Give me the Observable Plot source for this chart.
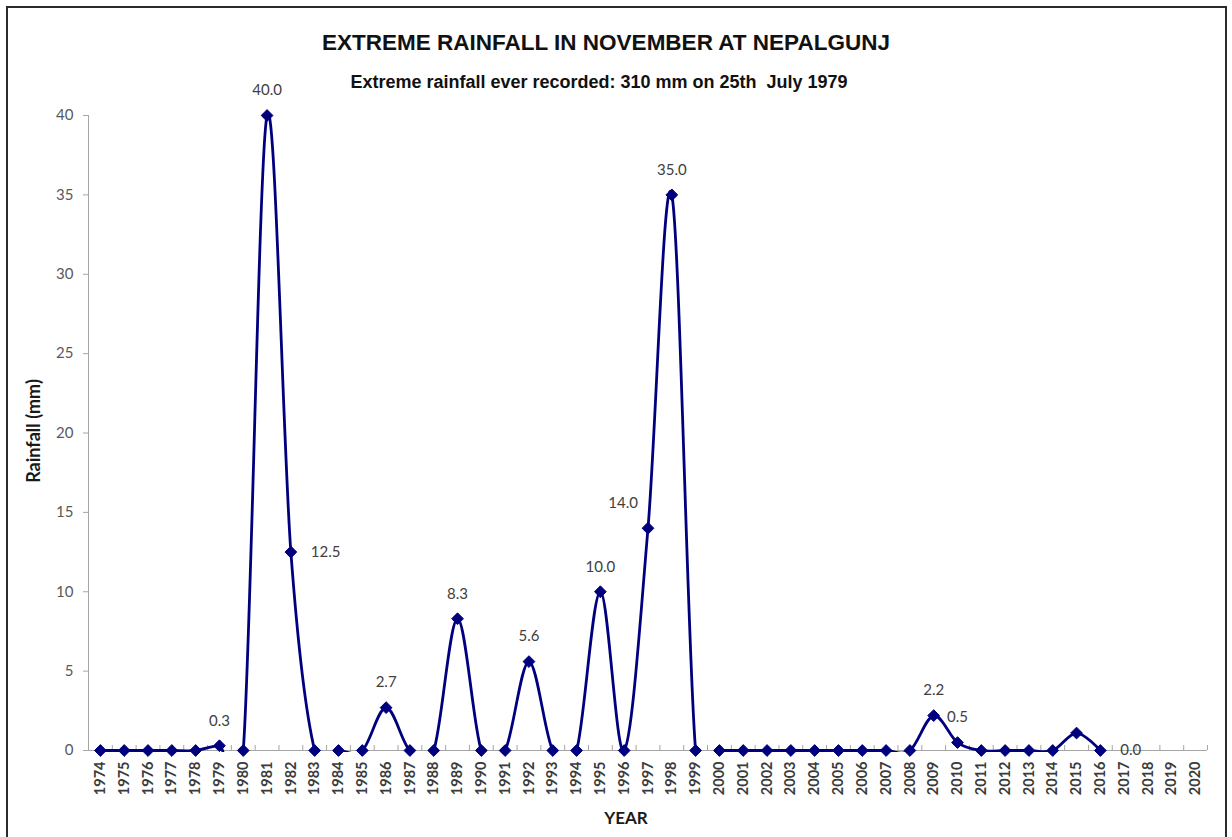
<!DOCTYPE html>
<html>
<head>
<meta charset="utf-8">
<script src="https://cdn.jsdelivr.net/npm/d3@7"></script>
<script src="https://cdn.jsdelivr.net/npm/@observablehq/plot@0.6"></script>
<style>
  body { margin: 0; background: #fff; }
  #wrap { position: relative; width: 1232px; height: 837px; overflow: hidden; background: #fff; }
  #border { position: absolute; left: 6px; top: 6px; width: 1221px; height: 860px; border: 2px solid #2b2b2b; box-sizing: border-box; }
  .t { position: absolute; text-align: center; white-space: nowrap; color: #111; }
  #title { left: 0; width: 1212px; top: 32px; font: bold 22.5px/22px "Liberation Sans", Arial, sans-serif; }
  #subtitle { left: 0; width: 1198px; top: 74px; font: bold 18px/16px "Liberation Sans", Arial, sans-serif; }
  #ylabel { left: 33px; top: 431px; transform: translate(-50%, -50%) rotate(-90deg); font: bold 18px/18px Lato, sans-serif; color: #1a1a1a; }
  #xlabel { left: 626px; top: 817px; transform: translate(-50%, -50%); font: bold 17px/17px Lato, sans-serif; color: #1a1a1a; }
  #plot { position: absolute; left: 0; top: 100px; }
</style>
</head>
<body>
<div id="wrap">
  <div id="border"></div>
  <div id="title" class="t">EXTREME RAINFALL IN NOVEMBER AT NEPALGUNJ</div>
  <div id="subtitle" class="t">Extreme rainfall ever recorded: 310 mm on 25th&nbsp; July 1979</div>
  <div id="plot"></div>
  <div id="ylabel" class="t">Rainfall (mm)</div>
  <div id="xlabel" class="t">YEAR</div>
</div>
<script>
// Category axis (all years shown on the axis)
const axisYears = ["1974","1975","1976","1977","1978","1979","1980","1981","1982","1983",
  "1984","1985","1986","1987","1988","1989","1990","1991","1992","1993","1994","1995",
  "1996","1997","1998","1999","2000","2001","2002","2003","2004","2005","2006","2007",
  "2008","2009","2010","2011","2012","2013","2014","2015","2016","2017","2018","2019","2020"];

// Years with data
const rainYears = ["1974","1975","1976","1977","1978","1979","1980","1981","1982","1983",
  "1984","1985","1986","1987","1988","1989","1990","1991","1992","1993","1994","1995",
  "1996","1997","1998","1999","2000","2001","2002","2003","2004","2005","2006","2007",
  "2008","2009","2010","2011","2012","2013","2014","2015","2016"];

// Extreme November rainfall (mm)
const rainfall = [0, 0, 0, 0, 0, 0.3, 0, 40.0, 12.5, 0,
  0, 0, 2.7, 0, 0, 8.3, 0, 0, 5.6, 0, 0, 10.0,
  0, 14.0, 35.0, 0, 0, 0, 0, 0, 0, 0, 0, 0,
  0, 2.2, 0.5, 0, 0, 0, 0, 1.1, 0];

// Y axis ticks
const yTicks = [0, 5, 10, 15, 20, 25, 30, 35, 40];

// Data label groups
const labelAbove = ["1979","1981","1986","1989","1992","1995","1998","2009","2010"];
const labelRight = ["1982","2016"];
const labelLeftAbove = ["1997"];

const data = rainYears.map((year, i) => ({year, value: rainfall[i]}));

const W = 1232, H = 737, mL = 88, mR = 25, mT = 15, mB = 87;
const frameH = H - mT - mB;
const step = (W - mL - mR) / axisYears.length;
const navy = "#00007f";
const axisGray = "#a6a6a6";
const fmt = d => d.value.toFixed(1);

const svg = Plot.plot({
  width: W, height: H,
  marginLeft: mL, marginRight: mR, marginTop: mT, marginBottom: mB,
  style: {background: "transparent", fontFamily: "Lato, sans-serif", overflow: "visible"},
  x: {type: "point", domain: axisYears, padding: 0.5, axis: null},
  y: {domain: [0, 40], axis: null},
  marks: [
    Plot.ruleY([0], {stroke: axisGray, strokeWidth: 1}),
    Plot.ruleX([axisYears[0]], {dx: -step / 2, stroke: axisGray}),
    Plot.ruleX(axisYears, {dx: -step / 2, insetTop: frameH - 5, stroke: axisGray}),
    Plot.ruleX([axisYears[axisYears.length - 1]], {dx: step / 2, insetTop: frameH - 5, stroke: axisGray}),
    Plot.axisY({ticks: yTicks, tickSize: 5, tickPadding: 10, fontSize: 15, stroke: axisGray, fill: "#595959", label: null}),
    Plot.axisX({tickRotate: -90, tickSize: 0, tickPadding: 11, fontSize: 14.5, fontWeight: "bold", fill: "#3b3b3b", label: null}),
    Plot.line(data, {x: "year", y: "value", curve: "cardinal", stroke: navy, strokeWidth: 2.8}),
    Plot.dot(data, {x: "year", y: "value", symbol: "diamond2", r: 5.3, fill: navy, stroke: navy, strokeWidth: 1}),
    Plot.text(data.filter(d => labelAbove.includes(d.year)), {x: "year", y: "value", text: fmt, dy: -25, fontSize: 15, fill: "#404040"}),
    Plot.text(data.filter(d => labelRight.includes(d.year)), {x: "year", y: "value", text: fmt, dx: 20, textAnchor: "start", fontSize: 15, fill: "#404040"}),
    Plot.text(data.filter(d => labelLeftAbove.includes(d.year)), {x: "year", y: "value", text: fmt, dx: -10, dy: -25, textAnchor: "end", fontSize: 15, fill: "#404040"})
  ]
});

// Clip the smoothed line at the value axis minimum (like the original chart)
const ns = "http://www.w3.org/2000/svg";
const y0 = svg.scale("y").apply(0);
const defs = document.createElementNS(ns, "defs");
const cp = document.createElementNS(ns, "clipPath");
cp.setAttribute("id", "belowZeroClip");
const rect = document.createElementNS(ns, "rect");
rect.setAttribute("x", 0); rect.setAttribute("y", 0);
rect.setAttribute("width", W); rect.setAttribute("height", y0 + 1.4);
cp.appendChild(rect); defs.appendChild(cp);
svg.insertBefore(defs, svg.firstChild);
const lineG = svg.querySelector('g[aria-label="line"]');
if (lineG) lineG.setAttribute("clip-path", "url(#belowZeroClip)");

document.getElementById("plot").appendChild(svg);
</script>
</body>
</html>
